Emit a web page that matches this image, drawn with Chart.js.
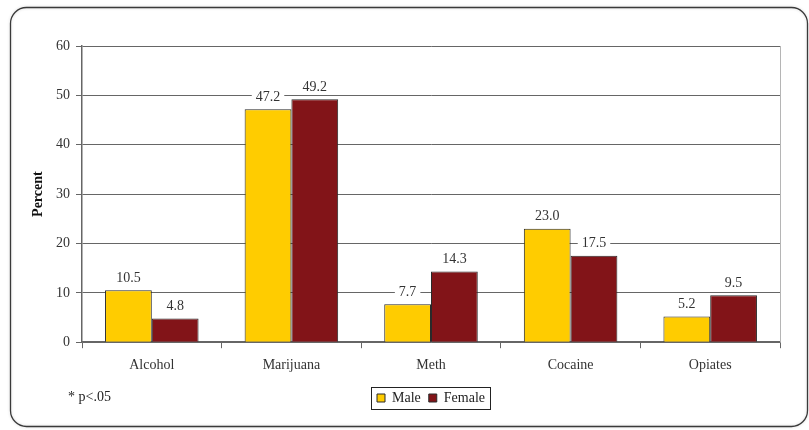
<!DOCTYPE html>
<html>
<head>
<meta charset="utf-8">
<script src="https://cdn.jsdelivr.net/npm/chart.js@4/dist/chart.umd.min.js"></script>
<style>
  html, body { margin: 0; padding: 0; background: #fff; }
  #wrap { width: 809px; height: 430px; position: relative; }
</style>
</head>
<body>
<div id="wrap"><canvas id="c" width="809" height="430"></canvas></div>
<script>
const categories = ['Alcohol', 'Marijuana', 'Meth', 'Cocaine', 'Opiates'];
const maleValues = [10.5, 47.2, 7.7, 23.0, 5.2];
const femaleValues = [4.8, 49.2, 14.3, 17.5, 9.5];
const seriesNames = ['Male', 'Female'];
const yTicks = [0, 10, 20, 30, 40, 50, 60];
const footnote = '* p<.05';

const SERIF = '"Liberation Serif", "Times New Roman", serif';

// Rounded frame around the whole figure, drawn before everything else
const framePlugin = {
  id: 'frame',
  beforeDraw(chart) {
    const ctx = chart.ctx;
    ctx.save();
    ctx.fillStyle = '#fff';
    ctx.fillRect(0, 0, chart.width, chart.height);
    const x = 10.5, y = 7.5, w = 797, h = 419, r = 16;
    ctx.shadowColor = 'rgba(0,0,0,0.18)';
    ctx.shadowBlur = 3;
    ctx.beginPath();
    ctx.moveTo(x + r, y);
    ctx.lineTo(x + w - r, y);
    ctx.arcTo(x + w, y, x + w, y + r, r);
    ctx.lineTo(x + w, y + h - r);
    ctx.arcTo(x + w, y + h, x + w - r, y + h, r);
    ctx.lineTo(x + r, y + h);
    ctx.arcTo(x, y + h, x, y + h - r, r);
    ctx.lineTo(x, y + r);
    ctx.arcTo(x, y, x + r, y, r);
    ctx.closePath();
    ctx.strokeStyle = '#3a3a3a';
    ctx.lineWidth = 1.3;
    ctx.stroke();
    ctx.restore();
  },
  afterDraw(chart) {
    const ctx = chart.ctx;
    const a = chart.chartArea;
    ctx.save();
    // light right edge of the plot area
    ctx.strokeStyle = '#b5b5b5';
    ctx.lineWidth = 1;
    ctx.beginPath();
    ctx.moveTo(Math.round(a.right) + 0.5, a.top);
    ctx.lineTo(Math.round(a.right) + 0.5, a.bottom);
    ctx.stroke();
    // footnote
    ctx.fillStyle = '#222';
    ctx.font = '14px ' + SERIF;
    ctx.textAlign = 'left';
    ctx.textBaseline = 'middle';
    ctx.fillText(footnote, 68, 397);
    // legend frame
    const lg = chart.legend;
    if (lg && lg.legendHitBoxes && lg.legendHitBoxes.length) {
      let minX = Infinity, maxX = -Infinity, minY = Infinity, maxY = -Infinity;
      lg.legendHitBoxes.forEach(b => {
        minX = Math.min(minX, b.left); maxX = Math.max(maxX, b.left + b.width);
        minY = Math.min(minY, b.top); maxY = Math.max(maxY, b.top + b.height);
      });
      ctx.strokeStyle = '#222';
      ctx.lineWidth = 1;
      ctx.strokeRect(Math.round(minX - 6) + 0.5, Math.round(minY - 4) + 0.5,
        Math.round(maxX - minX + 11), Math.round(maxY - minY + 8));
    }
    ctx.restore();
  }
};

// Value labels above each bar on a white backing box
const valueLabels = {
  id: 'valueLabels',
  afterDatasetsDraw(chart) {
    const ctx = chart.ctx;
    ctx.save();
    ctx.font = '14px ' + SERIF;
    ctx.textAlign = 'center';
    ctx.textBaseline = 'middle';
    chart.data.datasets.forEach((ds, di) => {
      const meta = chart.getDatasetMeta(di);
      meta.data.forEach((bar, i) => {
        const txt = Number(ds.data[i]).toFixed(1);
        const cx = bar.x, cy = bar.y - 13;
        const w = ctx.measureText(txt).width + 8;
        ctx.fillStyle = '#fff';
        ctx.fillRect(cx - w / 2, cy - 8, w, 16);
        ctx.fillStyle = '#333';
        ctx.fillText(txt, cx, cy + 1);
      });
    });
    ctx.restore();
  }
};

new Chart(document.getElementById('c'), {
  type: 'bar',
  data: {
    labels: categories,
    datasets: [
      { label: seriesNames[0], data: maleValues, backgroundColor: '#FFCC00', borderColor: '#2a2a2a', borderWidth: 1 },
      { label: seriesNames[1], data: femaleValues, backgroundColor: '#821418', borderColor: '#2a2a2a', borderWidth: 1 }
    ]
  },
  options: {
    responsive: false,
    animation: false,
    devicePixelRatio: 1,
    datasets: { bar: { categoryPercentage: 0.67, barPercentage: 1.0 } },
    layout: { padding: { left: 28, right: 29, top: 46, bottom: 15 } },
    plugins: {
      legend: {
        position: 'bottom',
        fullSize: false,
        labels: {
          boxWidth: 8, boxHeight: 8, padding: 8,
          color: '#222',
          font: { family: SERIF, size: 14 }
        }
      },
      tooltip: { enabled: false }
    },
    scales: {
      x: {
        grid: { display: true, drawOnChartArea: false, offset: true, tickLength: 6, color: '#666' },
        border: { color: '#666', width: 1.5 },
        ticks: { color: '#333', font: { family: SERIF, size: 14 }, padding: 9 }
      },
      y: {
        min: 0, max: 60,
        afterBuildTicks(scale) { scale.ticks = yTicks.map(v => ({ value: v })); },
        afterFit(scale) { scale.width = 54; },
        grid: { color: '#666', tickLength: 6, lineWidth: 1 },
        border: { color: '#666', width: 1.5 },
        ticks: { color: '#333', font: { family: SERIF, size: 14 }, padding: 6 },
        title: { display: true, text: 'Percent', color: '#111', font: { family: SERIF, size: 14, weight: 'bold' }, padding: 2 }
      }
    }
  },
  plugins: [framePlugin, valueLabels]
});
</script>
</body>
</html>
